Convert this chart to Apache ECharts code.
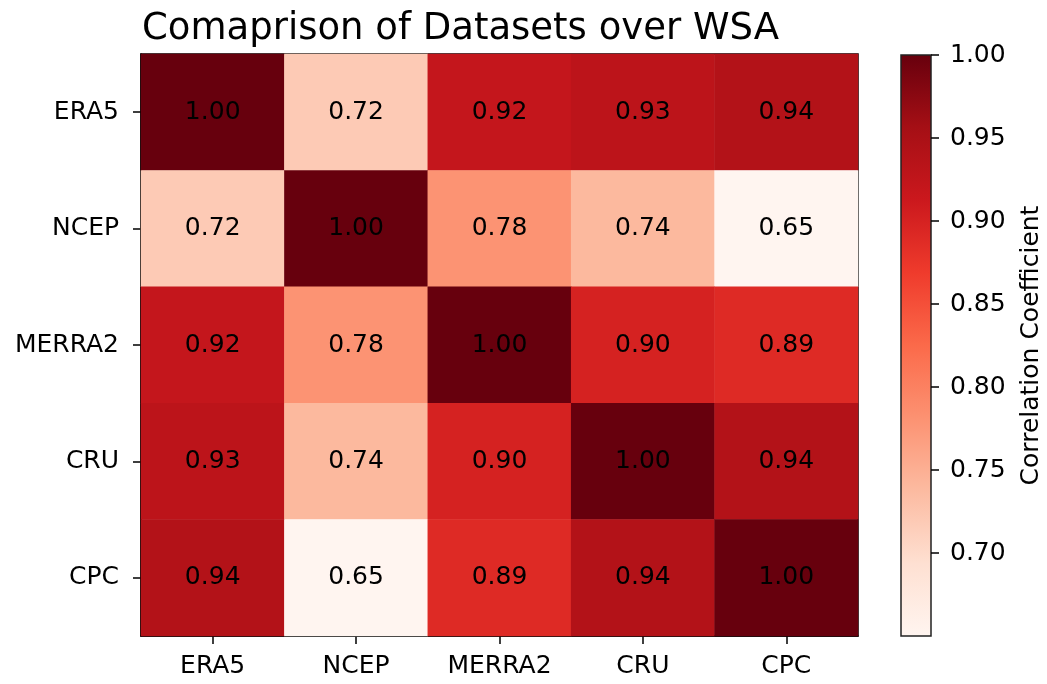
<!DOCTYPE html>
<html>
<head>
<meta charset="utf-8">
<script src="https://cdn.jsdelivr.net/npm/echarts@6/dist/echarts.min.js"></script>
<style>
  html, body { margin: 0; padding: 0; background: #fff; }
  #contain { width: 1047px; height: 684px; }
</style>
</head>
<body>
<div id="contain"></div>
<script>
var datasets = ['ERA5', 'NCEP', 'MERRA2', 'CRU', 'CPC'];
var corrERA5 = [1.00, 0.72, 0.92, 0.93, 0.94];
var corrNCEP = [0.72, 1.00, 0.78, 0.74, 0.65];
var corrMERRA2 = [0.92, 0.78, 1.00, 0.90, 0.89];
var corrCRU = [0.93, 0.74, 0.90, 1.00, 0.94];
var corrCPC = [0.94, 0.65, 0.89, 0.94, 1.00];
var cbTicks = [0.70, 0.75, 0.80, 0.85, 0.90, 0.95, 1.00];
var cbMin = 0.65, cbMax = 1.00;

// matplotlib Reds
var reds = ['#fff5f0', '#fee0d2', '#fcbba1', '#fc9272', '#fb6a4a', '#ef3b2c', '#cb181d', '#a50f15', '#67000d'];

var rows = [corrERA5, corrNCEP, corrMERRA2, corrCRU, corrCPC];
var cells = [];
for (var r = 0; r < rows.length; r++) {
    for (var c = 0; c < rows[r].length; c++) {
        cells.push([c, r, rows[r][c]]);
    }
}

// colorbar gradient, top = max, bottom = min
var stops = [];
for (var i = reds.length - 1; i >= 0; i--) {
    stops.push({offset: 1 - i / (reds.length - 1), color: reds[i]});
}

var font = 'DejaVu Sans';
var myChart = echarts.init(document.getElementById('contain'));
var option = {
    animation: false,
    backgroundColor: '#fff',
    title: {
        text: 'Comaprison of Datasets over WSA',
        left: 137,
        top: 6,
        textStyle: {fontFamily: font, fontSize: 37, fontWeight: 'normal', color: '#000'}
    },
    grid: [
        {left: 141, top: 54, width: 717, height: 582, show: true, borderColor: '#000', borderWidth: 1.5, backgroundColor: 'transparent'},
        {left: 901, top: 55, width: 30, height: 581, show: true, borderColor: '#222', borderWidth: 1.5,
            backgroundColor: new echarts.graphic.LinearGradient(0, 0, 0, 1, stops)}
    ],
    xAxis: [
        {
            type: 'category',
            data: datasets,
            gridIndex: 0,
            axisLine: {show: true, lineStyle: {color: '#000', width: 1.5}},
            axisTick: {show: true, alignWithLabel: true, length: 8, lineStyle: {color: '#000', width: 1.5}},
            axisLabel: {fontFamily: font, fontSize: 25, color: '#000', margin: 18},
            splitLine: {show: false}
        },
        {
            type: 'category',
            data: ['cb'],
            gridIndex: 1,
            show: false
        }
    ],
    yAxis: [
        {
            type: 'category',
            data: datasets,
            inverse: true,
            gridIndex: 0,
            axisLine: {show: true, lineStyle: {color: '#000', width: 1.5}},
            axisTick: {show: true, alignWithLabel: true, length: 8, lineStyle: {color: '#000', width: 1.5}},
            axisLabel: {fontFamily: font, fontSize: 25, color: '#000', margin: 22},
            splitLine: {show: false}
        },
        {
            type: 'value',
            gridIndex: 1,
            min: cbMin,
            max: cbMax,
            position: 'right',
            name: 'Correlation Coefficient',
            nameLocation: 'middle',
            nameRotate: 90,
            nameGap: 88,
            nameTextStyle: {fontFamily: font, fontSize: 25, color: '#000'},
            axisLine: {show: false},
            axisTick: {show: true, length: 8, customValues: cbTicks, lineStyle: {color: '#000', width: 1.5}},
            axisLabel: {
                fontFamily: font, fontSize: 25, color: '#000', margin: 19,
                customValues: cbTicks,
                formatter: function (v) { return v.toFixed(2); }
            },
            splitLine: {show: false}
        }
    ],
    visualMap: {
        show: false,
        min: cbMin,
        max: cbMax,
        dimension: 2,
        seriesIndex: 0,
        inRange: {color: reds}
    },
    series: [
        {
            type: 'heatmap',
            xAxisIndex: 0,
            yAxisIndex: 0,
            data: cells,
            label: {
                show: true,
                fontFamily: font,
                fontSize: 25,
                color: '#000',
                formatter: function (p) { return p.value[2].toFixed(2); }
            },
            itemStyle: {borderWidth: 0}
        }
    ]
};
myChart.setOption(option);
</script>
</body>
</html>
